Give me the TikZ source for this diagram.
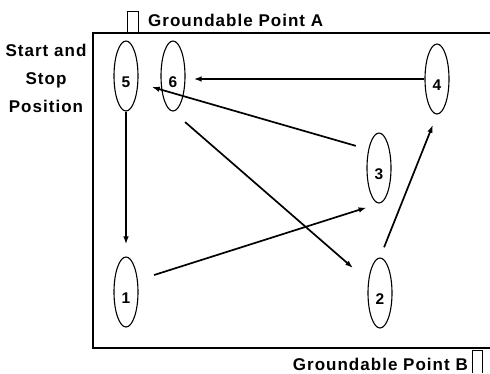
\documentclass[tikz,border=0pt]{standalone}
\usepackage{fontspec}
\setmainfont{Liberation Sans}
\newfontfamily\lblfont[LetterSpace=6]{Liberation Sans}
\usetikzlibrary{shapes.geometric, arrows.meta}
\begin{document}
\begin{tikzpicture}[>={Latex[length=8pt,width=5.5pt]}, x=1pt, y=-1pt,
    stop/.style={draw, ellipse, line width=1.1pt, minimum width=24pt, minimum height=70pt,
        inner sep=0pt, text height=22pt, text depth=0pt, font=\bfseries\fontsize{15.5}{15.5}\selectfont},
    txt/.style={inner sep=0pt, font=\lblfont\bfseries\fontsize{17}{28}\selectfont},
    move/.style={->, line width=1.7pt}]
    \useasboundingbox (0,0) rectangle (490,373);

    % frame and groundable points
    \draw[line width=1.4pt] (490,33) -- (93,33) -- (93,348) -- (490,348);
    \draw[line width=1pt] (127,33) -- (127,11) -- (138,11) -- (138,33);
    \draw[line width=1pt] (472,373) -- (472,350) -- (482,350) -- (482,373);
    \node[txt, anchor=base west] (ptA) at (148,26) {Groundable Point A};
    \node[txt, anchor=base east] (ptB) at (468,370) {Groundable Point B};
    \node[txt, anchor=north, align=center] (start) at (46,43.5) {Start and\\Stop\\Position};

    % positions
    \node[stop] (n5) at (126,76) {5};
    \node[stop] (n6) at (173,76) {6};
    \node[stop] (n4) at (437,79) {4};
    \node[stop] (n3) at (379,168) {3};
    \node[stop] (n1) at (126,292) {1};
    \node[stop] (n2) at (380,293) {2};

    % path
    \draw[move, shorten >=12pt] (n5.south) -- (n1.north);
    \draw[move, shorten <=17pt, shorten >=13pt] (n1.45) -- (n3.south);
    \draw[move, shorten <=13pt, shorten >=14pt] (n3.120) -- (n5.-30);
    \draw[move, shorten <=16pt, shorten >=20pt] (n6.south) -- (n2.135);
    \draw[move, shorten <=11pt, shorten >=11pt] (n2.north) -- (n4.south);
    \draw[move, shorten >=8pt] (n4.west) -- (n4.west -| n6.east);
\end{tikzpicture}
\end{document}
